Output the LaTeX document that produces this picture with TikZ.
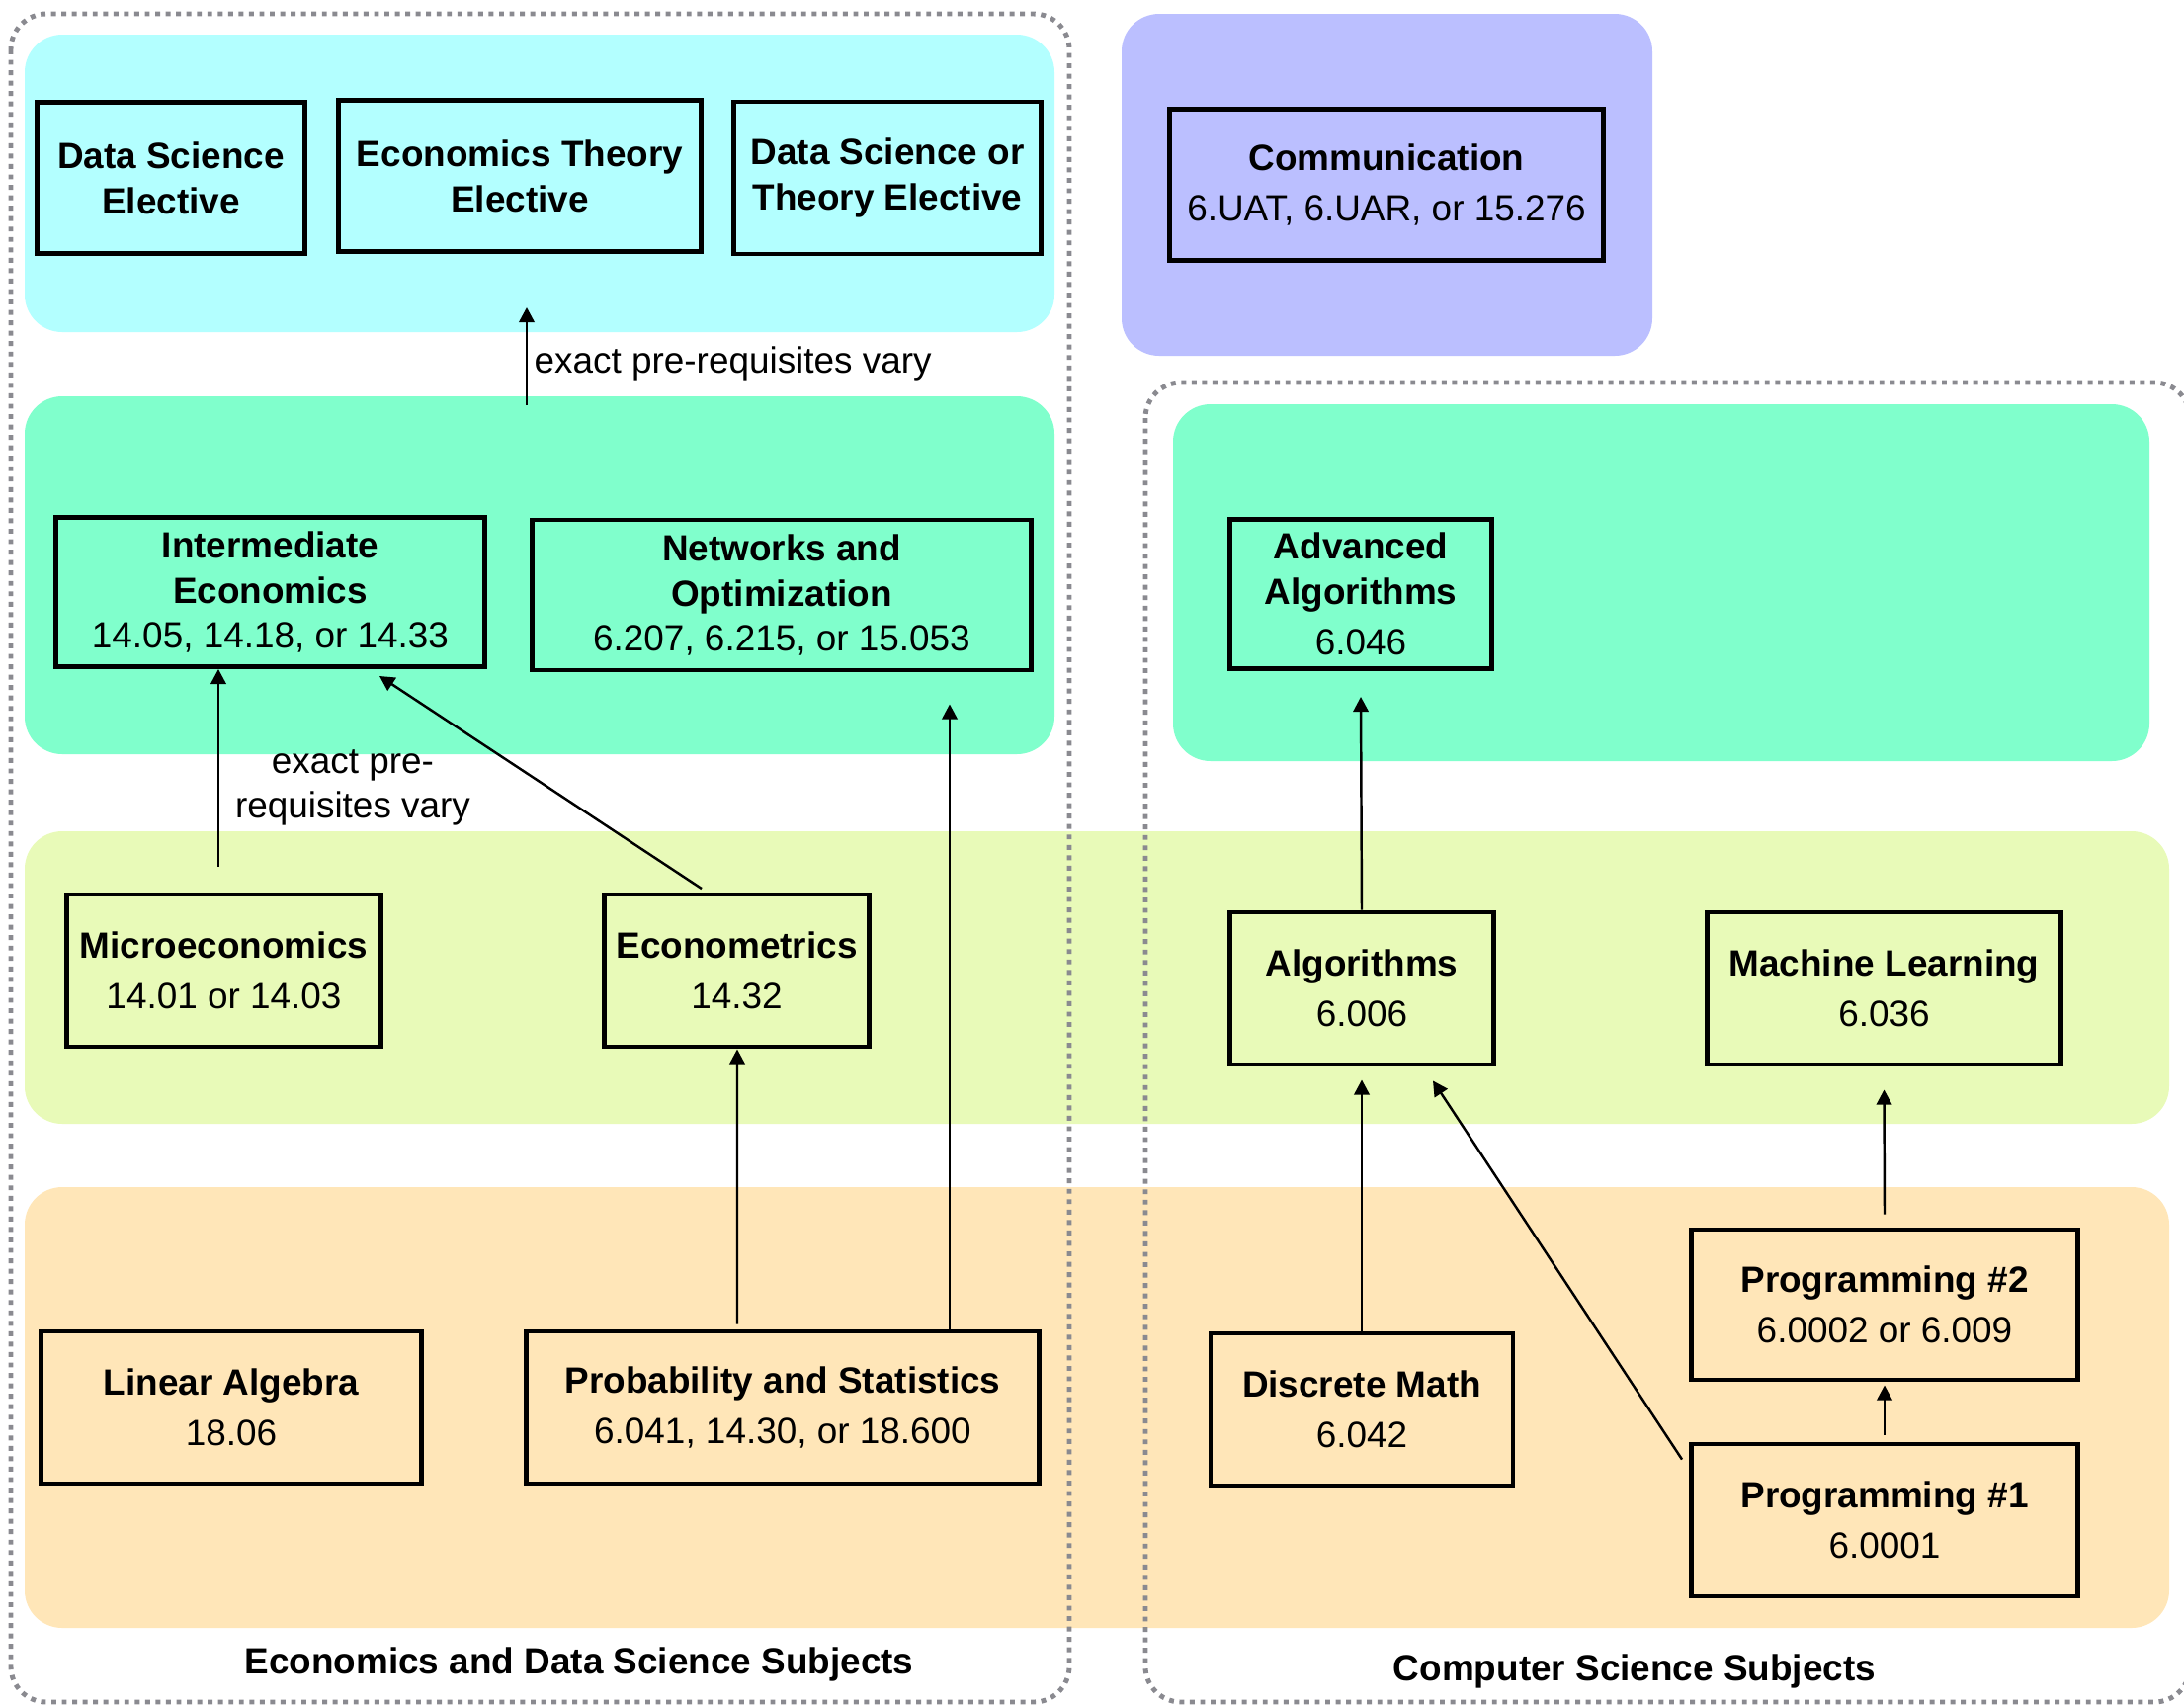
\documentclass[tikz,border=0pt]{standalone}
\usepackage{fontspec}
\setmainfont{Liberation Sans}
\usepackage{tikz}
\usetikzlibrary{arrows.meta}
\usepackage{xcolor}
\definecolor{topcyan}{RGB}{179,255,255}
\definecolor{commblue}{RGB}{187,191,255}
\definecolor{advgreen}{RGB}{128,255,204}
\definecolor{midlime}{RGB}{232,250,184}
\definecolor{baseorange}{RGB}{255,230,184}
\definecolor{dotgray}{RGB}{138,138,144}

\begin{document}
\begin{tikzpicture}[font=\fontsize{10.5}{13}\selectfont,
  course/.style={draw, line width=1.4pt, align=center, inner sep=0pt},
  arr/.style={-{Triangle[length=4.3pt,width=4.4pt]}, line width=0.7pt},
  band/.style={rounded corners=0.38cm},
  group/.style={draw=dotgray, line width=1.4pt, dash pattern=on 1.4pt off 1.6pt, rounded corners=0.36cm},
  note/.style={inner sep=0pt, align=center},
  grouplbl/.style={inner sep=0pt, font=\fontsize{10.5}{13}\selectfont\bfseries}]
\useasboundingbox (0,0) rectangle (22.1,-17.25);
% -- coloured bands --
\fill[band, topcyan] (0.25,-0.35) rectangle (10.67,-3.36);
\fill[band, commblue] (11.35,-0.14) rectangle (16.72,-3.60);
\fill[band, advgreen] (0.25,-4.01) rectangle (10.67,-7.63);
\fill[band, advgreen] (11.87,-4.09) rectangle (21.75,-7.70);
\fill[band, midlime] (0.25,-8.41) rectangle (21.95,-11.37);
\fill[band, baseorange] (0.25,-12.01) rectangle (21.95,-16.47);
% -- dotted groups --
\draw[group] (0.11,-0.14) rectangle (10.82,-17.22);
\draw[group] (11.59,-3.87) rectangle (22.16,-17.22);
\node[grouplbl] (econlbl) at (5.86,-16.84) {Economics and Data Science Subjects};
\node[grouplbl] (cslbl) at (16.54,-16.91) {Computer Science Subjects};
% -- electives --
\node[course, minimum width=2.71cm, minimum height=1.53cm] (dse) at (1.73,-1.80) {\textbf{Data Science}\\\textbf{Elective}};
\node[course, minimum width=3.67cm, minimum height=1.53cm] (ete) at (5.26,-1.78) {\textbf{Economics Theory}\\\textbf{Elective}};
\node[course, minimum width=3.11cm, minimum height=1.54cm] (dst) at (8.98,-1.80) {\textbf{Data Science or}\\\textbf{Theory Elective}};
\node[course, minimum width=4.39cm, minimum height=1.53cm] (comm) at (14.03,-1.87) {\textbf{Communication}\\[1.5pt]6.UAT, 6.UAR, or 15.276};
% -- advanced --
\node[course, minimum width=4.34cm, minimum height=1.51cm] (intecon) at (2.735,-5.99) {\textbf{Intermediate}\\\textbf{Economics}\\14.05, 14.18, or 14.33};
\node[course, minimum width=5.05cm, minimum height=1.52cm] (netopt) at (7.91,-6.02) {\textbf{Networks and}\\\textbf{Optimization}\\6.207, 6.215, or 15.053};
\node[course, minimum width=2.65cm, minimum height=1.51cm] (advalg) at (13.77,-6.01) {\textbf{Advanced}\\\textbf{Algorithms}\\[1.5pt]6.046};
% -- intermediate --
\node[course, minimum width=3.18cm, minimum height=1.54cm] (micro) at (2.265,-9.82) {\textbf{Microeconomics}\\[1.5pt]14.01 or 14.03};
\node[course, minimum width=2.68cm, minimum height=1.54cm] (econom) at (7.455,-9.82) {\textbf{Econometrics}\\[1.5pt]14.32};
\node[course, minimum width=2.67cm, minimum height=1.54cm] (algo) at (13.78,-10.00) {\textbf{Algorithms}\\[1.5pt]6.006};
\node[course, minimum width=3.58cm, minimum height=1.54cm] (ml) at (19.065,-10.00) {\textbf{Machine Learning}\\[1.5pt]6.036};
% -- foundations --
\node[course, minimum width=3.85cm, minimum height=1.54cm] (linalg) at (2.34,-14.24) {\textbf{Linear Algebra}\\[1.5pt]18.06};
\node[course, minimum width=5.19cm, minimum height=1.54cm] (probstat) at (7.92,-14.24) {\textbf{Probability and Statistics}\\[1.5pt]6.041, 14.30, or 18.600};
\node[course, minimum width=3.06cm, minimum height=1.54cm] (discrete) at (13.78,-14.26) {\textbf{Discrete Math}\\[1.5pt]6.042};
\node[course, minimum width=3.91cm, minimum height=1.52cm] (prog2) at (19.07,-13.20) {\textbf{Programming \#2}\\[1.5pt]6.0002 or 6.009};
\node[course, minimum width=3.91cm, minimum height=1.54cm] (prog1) at (19.07,-15.38) {\textbf{Programming \#1}\\[1.5pt]6.0001};
% -- prerequisites --
\coordinate (varyfrom) at (5.33,-4.10);
\coordinate (varyto) at (5.33,-3.11);
\draw[arr] (varyfrom) -- (varyto);
\node[note, anchor=west] (varylbl) at (5.40,-3.68) {exact pre-requisites vary};
\draw[arr] ([shift={(-0.055,0.26)}]micro.north) -- ([xshift=-0.055cm]micro.north |- intecon.south);
\node[note] (microlbl) at (3.57,-7.97) {exact pre-\\requisites vary};
\draw[arr] ([shift={(-0.355,0.035)}]econom.north) -- ([shift={(1.105,-0.07)}]intecon.south);
\draw[arr] ([xshift=1.69cm]probstat.north) -- ([xshift=1.69cm, yshift=-0.32cm]probstat.north |- netopt.south);
\draw[arr] ([shift={(-0.46,0.05)}]probstat.north) -- ([xshift=-0.46cm]probstat.north |- econom.south);
\draw[arr] (algo.north) -- ([yshift=-0.26cm]advalg.south);
\draw[arr] (discrete.north) -- ([yshift=-0.13cm]algo.south);
\draw[arr] ([shift={(-0.07,-0.18)}]prog1.north west) -- ([shift={(0.72,-0.14)}]algo.south);
\draw[arr] ([yshift=0.13cm]prog2.north) -- ([yshift=-0.23cm]ml.south);
\draw[arr] ([yshift=0.07cm]prog1.north) -- ([yshift=-0.03cm]prog2.south);
\end{tikzpicture}
\end{document}
